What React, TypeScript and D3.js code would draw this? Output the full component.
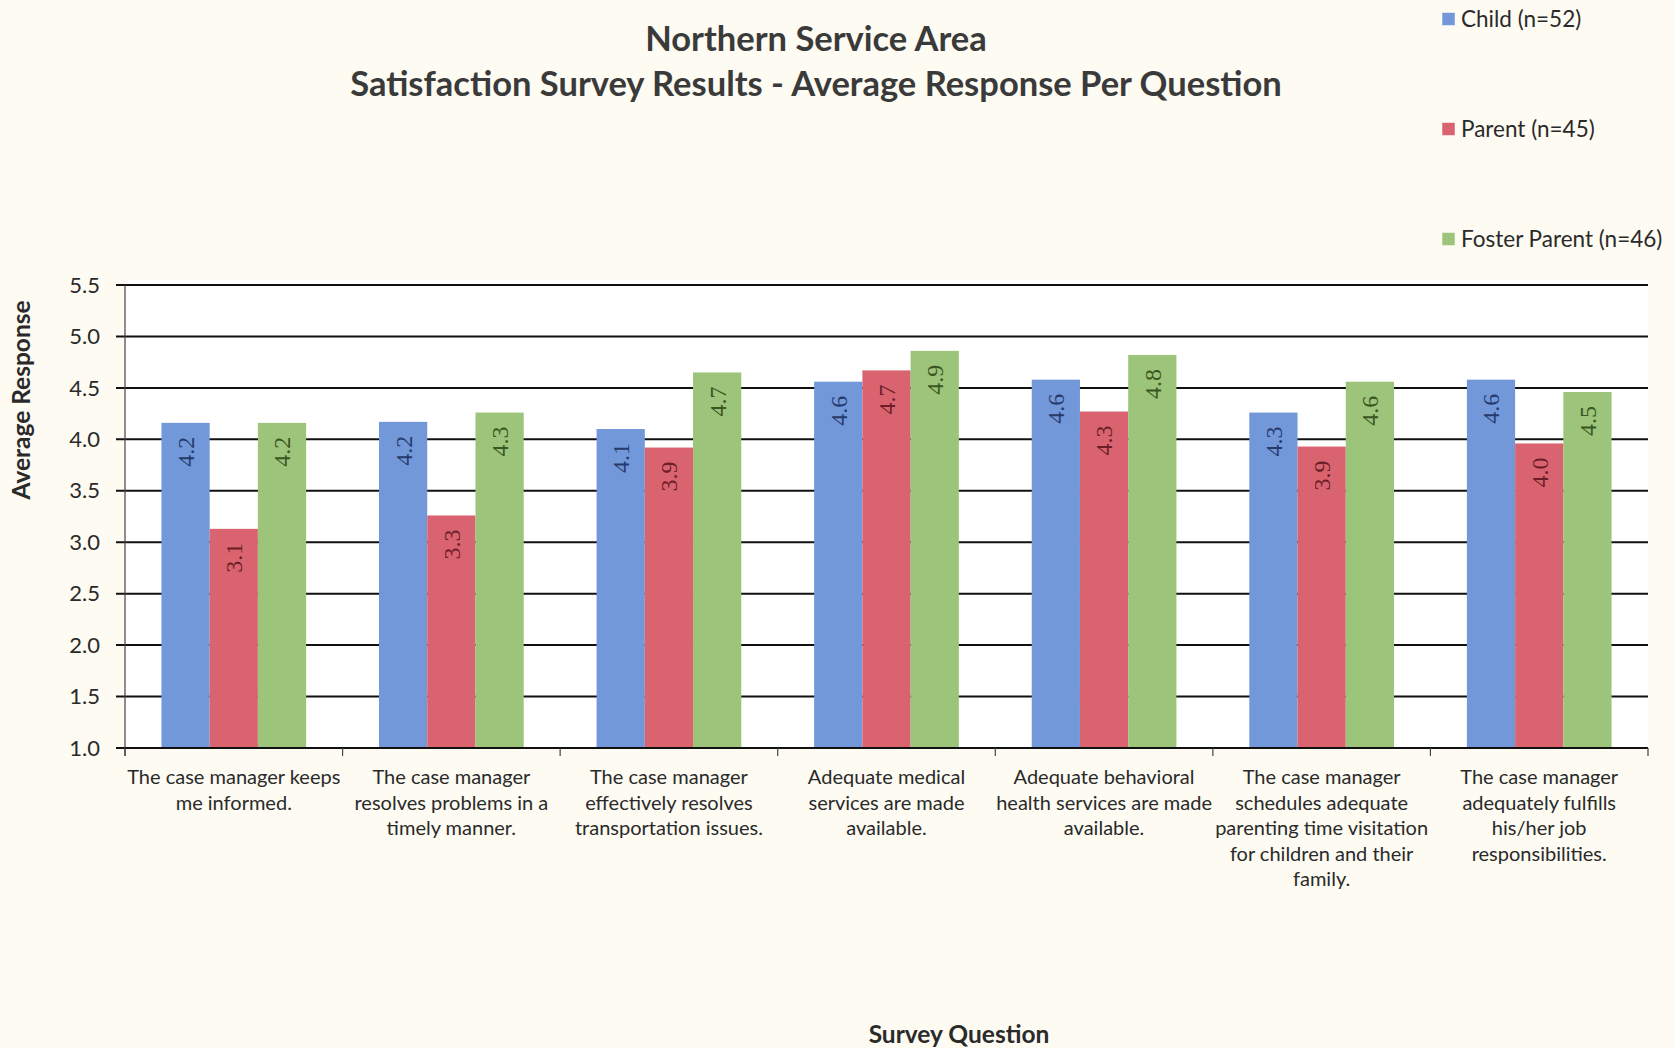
import React from "react";
import * as d3 from "d3";

const titleLines = ["Northern Service Area", "Satisfaction Survey Results - Average Response Per Question"];
const categories = [
  "The case manager keeps me informed.",
  "The case manager resolves problems in a timely manner.",
  "The case manager effectively resolves transportation issues.",
  "Adequate medical services are made available.",
  "Adequate behavioral health services are made available.",
  "The case manager schedules adequate parenting time visitation for children and their family.",
  "The case manager adequately fulfills his/her job responsibilities.",
];
const categoryLines = [
  ["The case manager keeps", "me informed."],
  ["The case manager", "resolves problems in a", "timely manner."],
  ["The case manager", "effectively resolves", "transportation issues."],
  ["Adequate medical", "services are made", "available."],
  ["Adequate behavioral", "health services are made", "available."],
  ["The case manager", "schedules adequate", "parenting time visitation", "for children and their", "family."],
  ["The case manager", "adequately fulfills", "his/her job", "responsibilities."],
];
const seriesNames = ["Child (n=52)", "Parent (n=45)", "Foster Parent (n=46)"];
const childValues = [4.16, 4.17, 4.1, 4.56, 4.58, 4.26, 4.58];
const parentValues = [3.13, 3.26, 3.92, 4.67, 4.27, 3.93, 3.96];
const fosterValues = [4.16, 4.26, 4.65, 4.86, 4.82, 4.56, 4.46];
const yTicks = [1.0, 1.5, 2.0, 2.5, 3.0, 3.5, 4.0, 4.5, 5.0, 5.5];
const seriesColors = ["#7298da", "#d9646f", "#9cc47a"];
const labelColors = ["#263a6c", "#6c1d28", "#3a5621"];

const W = 1675;
const H = 1048;
const plot = { left: 125, right: 1648, top: 285, bottom: 748 };
const SANS = "Lato, Carlito, Calibri, sans-serif";
const SERIF = "'Liberation Serif', 'Times New Roman', serif";

export default function App() {
  const seriesValues = [childValues, parentValues, fosterValues];
  const x = d3.scaleBand<number>().domain(d3.range(categories.length)).range([plot.left, plot.right]).paddingInner(0).paddingOuter(0);
  const groupFrac = 0.665;
  const groupW = x.bandwidth() * groupFrac;
  const xs = d3.scaleBand<number>().domain([0, 1, 2]).range([0, groupW]).padding(0);
  const y = d3.scaleLinear().domain([1.0, 5.5]).range([plot.bottom, plot.top]);
  const fmt = d3.format(".1f");

  return (
    <svg width={W} height={H} style={{ position: "absolute", left: 0, top: 0, background: "#fdfbf2" }}>
      <rect x={0} y={0} width={W} height={H} fill="#fdfbf2" />
      <rect x={plot.left} y={plot.top - 5} width={plot.right - plot.left} height={plot.bottom - plot.top + 5} fill="#ffffff" />

      {/* Title */}
      {titleLines.map((t, i) => (
        <text key={i} x={816} y={51 + i * 45} textAnchor="middle" fontFamily={SANS} fontWeight="bold" fontSize={34.5} fill="#3a3a3a">
          {t}
        </text>
      ))}

      {/* Gridlines and y ticks */}
      {yTicks.map((v) => (
        <g key={v}>
          <line x1={plot.left - 9} x2={plot.right} y1={y(v)} y2={y(v)} stroke="#111" strokeWidth={2} />
          <text x={100} y={y(v)} dy="0.35em" textAnchor="end" fontFamily={SANS} fontSize={22} fill="#2a2a2a">
            {fmt(v)}
          </text>
        </g>
      ))}

      {/* Bars */}
      {categories.map((c, i) => {
        const gx = (x(i) as number) + (x.bandwidth() - groupW) / 2;
        return (
          <g key={c}>
            {seriesValues.map((vals, s) => {
              const bx = gx + (xs(s) as number);
              const by = y(vals[i]);
              return (
                <g key={s}>
                  <rect x={bx} y={by} width={xs.bandwidth()} height={y(1.0) - by} fill={seriesColors[s]} />
                  <text
                    transform={`translate(${bx + xs.bandwidth() / 2},${by + 14}) rotate(-90)`}
                    textAnchor="end"
                    dy="0.35em"
                    fontFamily={SERIF}
                    fontSize={24}
                    fill={labelColors[s]}
                  >
                    {fmt(vals[i])}
                  </text>
                </g>
              );
            })}
          </g>
        );
      })}

      {/* Axes */}
      <line x1={plot.left} x2={plot.left} y1={plot.top} y2={plot.bottom + 8} stroke="#444" strokeWidth={1.2} />
      <line x1={plot.left} x2={plot.right} y1={plot.bottom} y2={plot.bottom} stroke="#111" strokeWidth={2} />
      {d3.range(categories.length + 1).map((i) => {
        const tx = i < categories.length ? (x(i) as number) : plot.right;
        return <line key={i} x1={tx} x2={tx} y1={plot.bottom} y2={plot.bottom + 8} stroke="#444" strokeWidth={1.2} />;
      })}

      {/* Category labels */}
      {categoryLines.map((lines, i) => (
        <text key={i} textAnchor="middle" fontFamily={SANS} fontSize={20} fill="#2a2a2a">
          {lines.map((l, j) => (
            <tspan key={j} x={(x(i) as number) + x.bandwidth() / 2} y={784 + j * 25.6}>
              {l}
            </tspan>
          ))}
        </text>
      ))}

      {/* Axis titles */}
      <text transform={`translate(30,400) rotate(-90)`} textAnchor="middle" fontFamily={SANS} fontWeight="bold" fontSize={24.5} fill="#2a2a2a">
        Average Response
      </text>
      <text x={959} y={1043} textAnchor="middle" fontFamily={SANS} fontWeight="bold" fontSize={24.5} fill="#2a2a2a">
        Survey Question
      </text>

      {/* Legend */}
      {seriesNames.map((n, s) => {
        const cy = 19 + s * 110;
        return (
          <g key={n}>
            <rect x={1442} y={cy - 6.5} width={13} height={13} fill={seriesColors[s]} stroke="#ffffff" strokeWidth={0.5} />
            <text x={1461} y={cy} dy="0.35em" fontFamily={SANS} fontSize={22.5} fill="#2a2a2a">
              {n}
            </text>
          </g>
        );
      })}
    </svg>
  );
}
